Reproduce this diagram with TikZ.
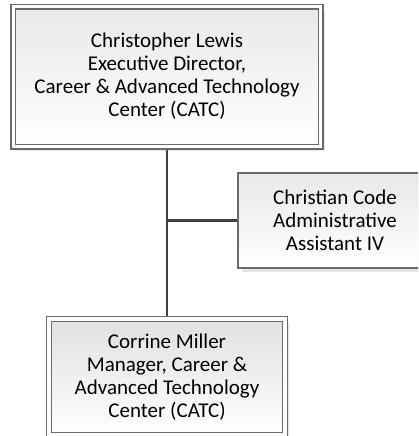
\documentclass[tikz,border=0pt]{standalone}
\usepackage{fontspec}
\setmainfont{Carlito}
\usetikzlibrary{shadows}
\tikzset{
	orgbox/.style={draw=black!58, line width=1.1bp, align=center, inner sep=0pt,
		top color=black!9, bottom color=white,
		font=\fontsize{21bp}{23bp}\selectfont,
		drop shadow={shadow xshift=4bp, shadow yshift=-4bp, fill=black!10, opacity=1}},
	headbox/.style={orgbox, double=white, double distance=3.8bp},
	orglink/.style={draw=black!75, line width=2.6bp}
}

\begin{document}
\begin{tikzpicture}[x=1bp, y=-1bp]
		%%%%% START %%%%%
		
		\useasboundingbox (0, 0) rectangle (418, 436);
		\clip (0, 0) rectangle (418, 436);
		
		\node[headbox, minimum width=307bp, minimum height=140bp] (lewis) at (167, 76.6)
			{Christopher Lewis\\Executive Director,\\Career \& Advanced Technology\\Center (CATC)};
		\node[orgbox, minimum width=194bp, minimum height=95bp] (code) at (335, 220.5)
			{Christian Code\\Administrative\\Assistant IV};
		\node[headbox, top color=black!12, minimum width=236bp, minimum height=116bp] (miller) at (167, 377.3)
			{Corrine Miller\\Manager, Career \&\\Advanced Technology\\Center (CATC)};
		
		\coordinate (split) at (lewis.south |- code.west);
		\draw[orglink] ([yshift=-2.5bp]lewis.south) -- ([yshift=2.5bp]miller.north);
		\draw[orglink, line width=2.2bp] (split) -- (code.west);
		
		%%%%% END %%%%%
	\end{tikzpicture}
\end{document}
